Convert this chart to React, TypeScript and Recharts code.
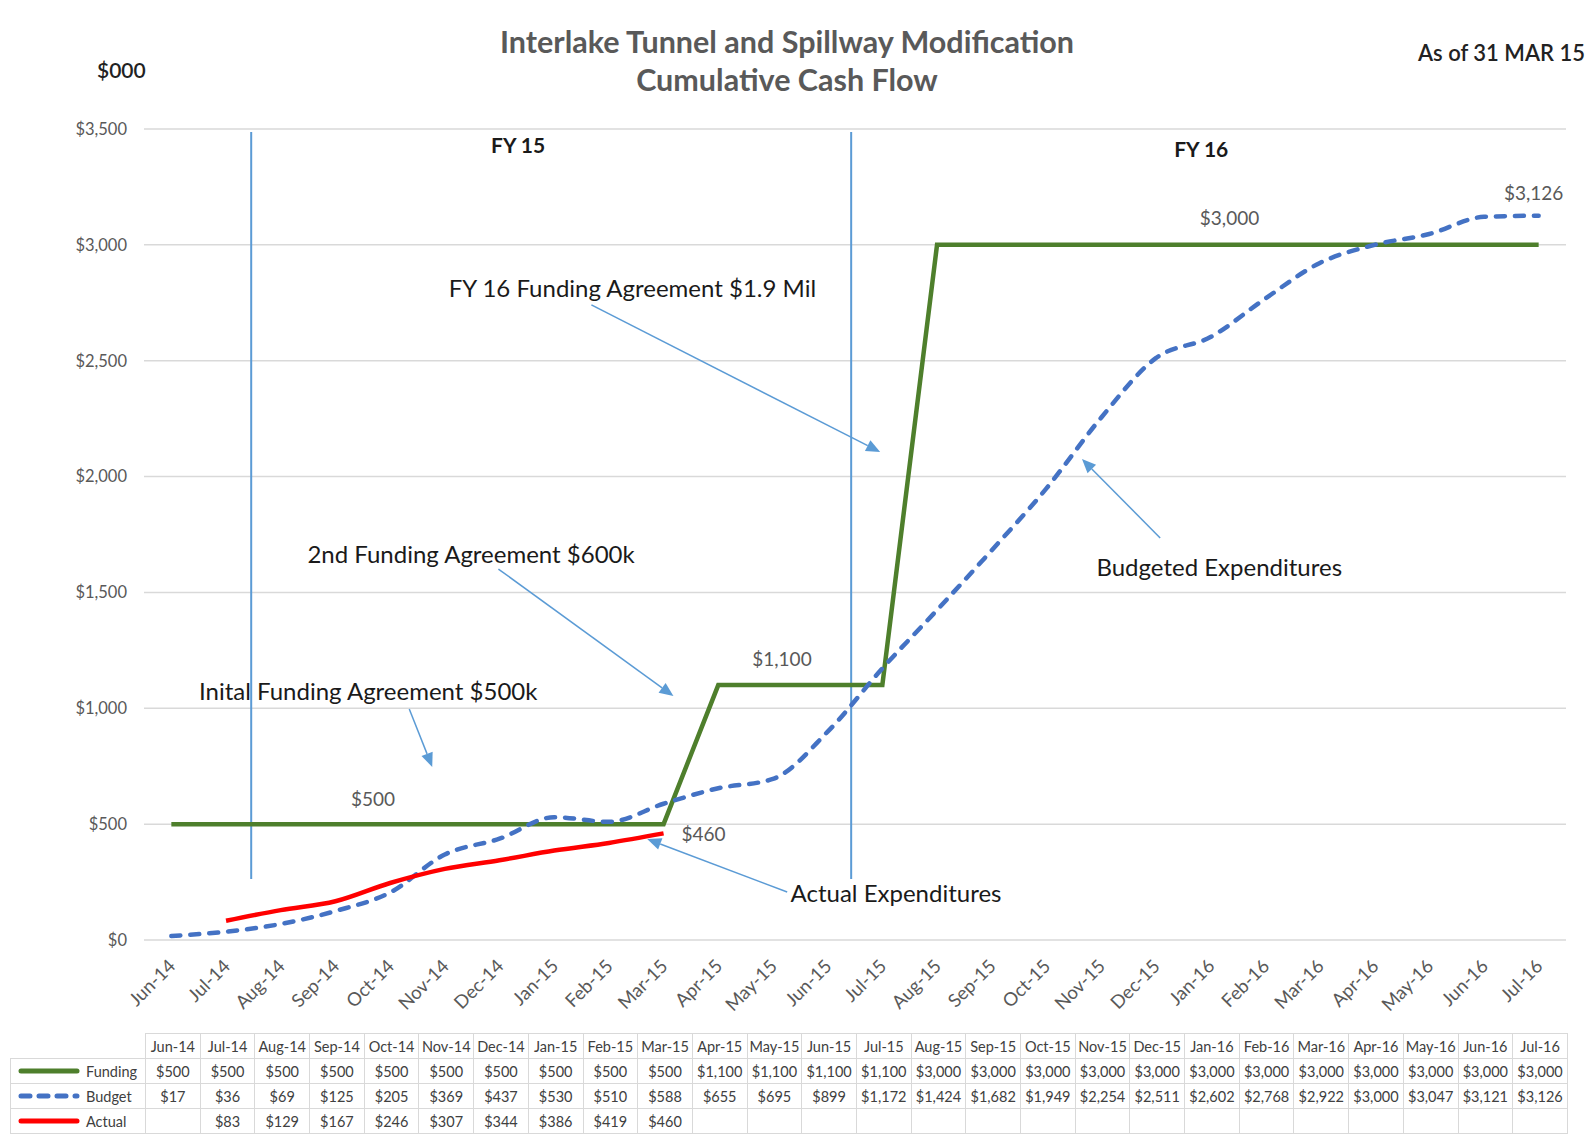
import React from 'react';
import { LineChart, Line, XAxis, YAxis, CartesianGrid, ReferenceLine, ReferenceDot } from 'recharts';

const months = ['Jun-14','Jul-14','Aug-14','Sep-14','Oct-14','Nov-14','Dec-14','Jan-15','Feb-15','Mar-15','Apr-15','May-15','Jun-15','Jul-15','Aug-15','Sep-15','Oct-15','Nov-15','Dec-15','Jan-16','Feb-16','Mar-16','Apr-16','May-16','Jun-16','Jul-16'];
const funding = [500,500,500,500,500,500,500,500,500,500,1100,1100,1100,1100,3000,3000,3000,3000,3000,3000,3000,3000,3000,3000,3000,3000];
const budget = [17,36,69,125,205,369,437,530,510,588,655,695,899,1172,1424,1682,1949,2254,2511,2602,2768,2922,3000,3047,3121,3126];
const actual: (number | null)[] = [null,83,129,167,246,307,344,386,419,460,null,null,null,null,null,null,null,null,null,null,null,null,null,null,null,null];
const yTicks = [0,500,1000,1500,2000,2500,3000,3500];

// annotation texts (data coordinates: month index, $000)
const notes = [
  { text: 'FY 15', x: 6.34, y: 3431, bold: true },
  { text: 'FY 16', x: 18.83, y: 3414, bold: true },
  { text: 'Inital Funding Agreement $500k', x: 3.6, y: 1075 },
  { text: '2nd Funding Agreement $600k', x: 5.48, y: 1666 },
  { text: 'FY 16 Funding Agreement $1.9 Mil', x: 8.43, y: 2814 },
  { text: 'Budgeted Expenditures', x: 19.16, y: 1614 },
  { text: 'Actual Expenditures', x: 13.25, y: 203 },
];
const arrows = [
  { from: [4.35, 997], to: [4.77, 747] },
  { from: [5.98, 1601], to: [9.18, 1053] },
  { from: [7.68, 2741], to: [12.96, 2106] },
  { from: [18.08, 1735], to: [16.65, 2076] },
  { from: [11.26, 207], to: [8.7, 436] },
];
const fyLines = [1.46, 12.43];
const fyLineSpan = [263, 3487];

const fundingLabelIdx = [4, 11, 19];
const budgetLabelIdx = [25];
const actualLabelIdx = [9];

const fmt = (v: number) => '$' + v.toLocaleString('en-US');

const data = months.map((m, i) => ({ idx: i, month: m, funding: funding[i], budget: budget[i], actual: actual[i] }));

const FONT = 'Lato, "Liberation Sans", sans-serif';
const BLUE = '#5B9BD5';
const GREEN = '#4E7F2C';
const DASH = '#4472C4';
const RED = '#FF0000';

const Arrow = (p: any) => {
  const { x1, y1, x2, y2 } = p;
  const ang = Math.atan2(y2 - y1, x2 - x1);
  const L = 14, W = 6;
  const bx = x2 - L * Math.cos(ang), by = y2 - L * Math.sin(ang);
  const pts = `${x2},${y2} ${bx + W * Math.sin(ang)},${by - W * Math.cos(ang)} ${bx - W * Math.sin(ang)},${by + W * Math.cos(ang)}`;
  return (
    <g>
      <line x1={x1} y1={y1} x2={bx} y2={by} stroke={BLUE} strokeWidth={1.5} />
      <polygon points={pts} fill={BLUE} />
    </g>
  );
};

const makeLabel = (indices: number[], dx: number[], dy: number[], anchor: string[]) => (props: any) => {
  const { x, y, index, value } = props;
  const k = indices.indexOf(index);
  if (k < 0 || value == null) return null;
  return (
    <text key={'l' + index} x={x + dx[k]} y={y + dy[k]} textAnchor={anchor[k]} dominantBaseline="central" fill="#595959" fontSize={19} fontFamily={FONT}>
      {fmt(value)}
    </text>
  );
};

const monthCol = 54.7;
const legendCol = 135;

const LegendCell = ({ color, dashed, label }: { color: string; dashed?: boolean; label: string }) => (
  <div style={{ display: 'flex', alignItems: 'center', height: '100%' }}>
    <svg width={68} height={10} style={{ marginLeft: 7 }}>
      <line x1={3} y1={5} x2={59} y2={5} stroke={color} strokeWidth={5} strokeLinecap="round" strokeDasharray={dashed ? '9 9' : undefined} />
    </svg>
    <span style={{ marginLeft: 0 }}>{label}</span>
  </div>
);

const cell: React.CSSProperties = { border: '1.5px solid #d9d9d9', height: 24, padding: 0, textAlign: 'center', fontSize: 14.5, color: '#404040', whiteSpace: 'nowrap', overflow: 'hidden' };

export default function App() {
  return (
    <div style={{ position: 'absolute', left: 0, top: 0, width: 1593, height: 1138, background: '#fff', fontFamily: FONT, overflow: 'hidden' }}>
      <div style={{ position: 'absolute', left: 387, width: 800, top: 23, textAlign: 'center', fontSize: 30.5, fontWeight: 700, color: '#595959', lineHeight: '36px' }}>
        Interlake Tunnel and Spillway Modification
      </div>
      <div style={{ position: 'absolute', left: 387, width: 800, top: 61, textAlign: 'center', fontSize: 30.5, fontWeight: 700, color: '#595959', lineHeight: '36px' }}>
        Cumulative Cash Flow
      </div>
      <div style={{ position: 'absolute', left: 97, top: 56, fontSize: 21, fontWeight: 600, color: '#222', lineHeight: '28px' }}>$000</div>
      <div style={{ position: 'absolute', right: 8, top: 40, fontSize: 22, fontWeight: 600, color: '#222', lineHeight: '26px' }}>As of 31 MAR 15</div>

      <div style={{ position: 'absolute', left: 0, top: 0 }}>
        <LineChart width={1593} height={1030} data={data} margin={{ top: 129, right: 27, left: 0, bottom: 0 }}>
          <CartesianGrid xAxisId="m" horizontal vertical={false} stroke="#d9d9d9" strokeWidth={1.5} />
          <XAxis xAxisId="t" dataKey="idx" type="number" domain={[-0.5, months.length - 0.5]}
            ticks={[...months.map((_, i) => i - 0.5), months.length - 0.5]} interval={0}
            height={0} tick={false} tickSize={7} tickLine={{ stroke: '#d9d9d9', strokeWidth: 1.5 }} axisLine={{ stroke: '#d9d9d9', strokeWidth: 1.5 }} />
          <XAxis xAxisId="m" dataKey="idx" type="number" domain={[-0.5, months.length - 0.5]}
            ticks={months.map((_, i) => i)} interval={0} tickFormatter={(i: number) => months[i]}
            height={90} axisLine={false} tickLine={false} tickSize={0} tickMargin={18} angle={-45} textAnchor="end"
            tick={{ fill: '#595959', fontSize: 18.5, fontFamily: FONT, dx: -4 }} />
          <YAxis type="number" domain={[0, 3500]} ticks={yTicks} width={144} axisLine={false} tickLine={false} tickSize={0} tickMargin={17}
            tickFormatter={(v: number) => fmt(v)} tick={{ fill: '#595959', fontSize: 16.5, fontFamily: FONT }} />

          {fyLines.map((x, i) => (
            <ReferenceLine key={'fy' + i} xAxisId="m" segment={[{ x, y: fyLineSpan[0] }, { x, y: fyLineSpan[1] }]} stroke={BLUE} strokeWidth={2} />
          ))}

          <Line xAxisId="m" type="linear" dataKey="funding" stroke={GREEN} strokeWidth={4.5} dot={false} isAnimationActive={false}
            label={makeLabel(fundingLabelIdx, [-17, 9, 19], [-26, -27, -27], ['middle', 'middle', 'middle'])} />
          <Line xAxisId="m" type="monotone" dataKey="budget" stroke={DASH} strokeWidth={4.5} strokeDasharray="9 10" strokeLinecap="round" dot={false} isAnimationActive={false}
            label={makeLabel(budgetLabelIdx, [-5], [-23], ['middle'])} />
          <Line xAxisId="m" type="monotone" dataKey="actual" stroke={RED} strokeWidth={4.5} dot={false} isAnimationActive={false} connectNulls={false}
            label={makeLabel(actualLabelIdx, [18], [0], ['start'])} />

          {arrows.map((a, i) => (
            <ReferenceLine key={'ar' + i} xAxisId="m" segment={[{ x: a.from[0], y: a.from[1] }, { x: a.to[0], y: a.to[1] }]} shape={Arrow} />
          ))}
          {notes.map((n, i) => (
            <ReferenceDot key={'n' + i} xAxisId="m" x={n.x} y={n.y} r={0}
              shape={(p: any) => (
                <text x={p.cx} y={p.cy} textAnchor="middle" dominantBaseline="central" fontFamily={FONT}
                  fontSize={n.bold ? 21 : 24} fontWeight={n.bold ? 700 : 400} fill="#1a1a1a">{n.text}</text>
              )} />
          ))}
        </LineChart>
      </div>

      <table style={{ position: 'absolute', left: 10, top: 1033, borderCollapse: 'collapse', tableLayout: 'fixed', width: legendCol + monthCol * months.length, fontFamily: FONT }}>
        <colgroup>
          <col style={{ width: legendCol }} />
          {months.map((m) => <col key={m} style={{ width: monthCol }} />)}
        </colgroup>
        <tbody>
          <tr>
            <td style={{ ...cell, border: 'none' }}></td>
            {months.map((m) => <td key={m} style={cell}>{m}</td>)}
          </tr>
          <tr>
            <td style={{ ...cell, textAlign: 'left' }}><LegendCell color={GREEN} label="Funding" /></td>
            {funding.map((v, i) => <td key={i} style={cell}>{fmt(v)}</td>)}
          </tr>
          <tr>
            <td style={{ ...cell, textAlign: 'left' }}><LegendCell color={DASH} dashed label="Budget" /></td>
            {budget.map((v, i) => <td key={i} style={cell}>{fmt(v)}</td>)}
          </tr>
          <tr>
            <td style={{ ...cell, textAlign: 'left' }}><LegendCell color={RED} label="Actual" /></td>
            {actual.map((v, i) => <td key={i} style={cell}>{v == null ? '' : fmt(v)}</td>)}
          </tr>
        </tbody>
      </table>
    </div>
  );
}
